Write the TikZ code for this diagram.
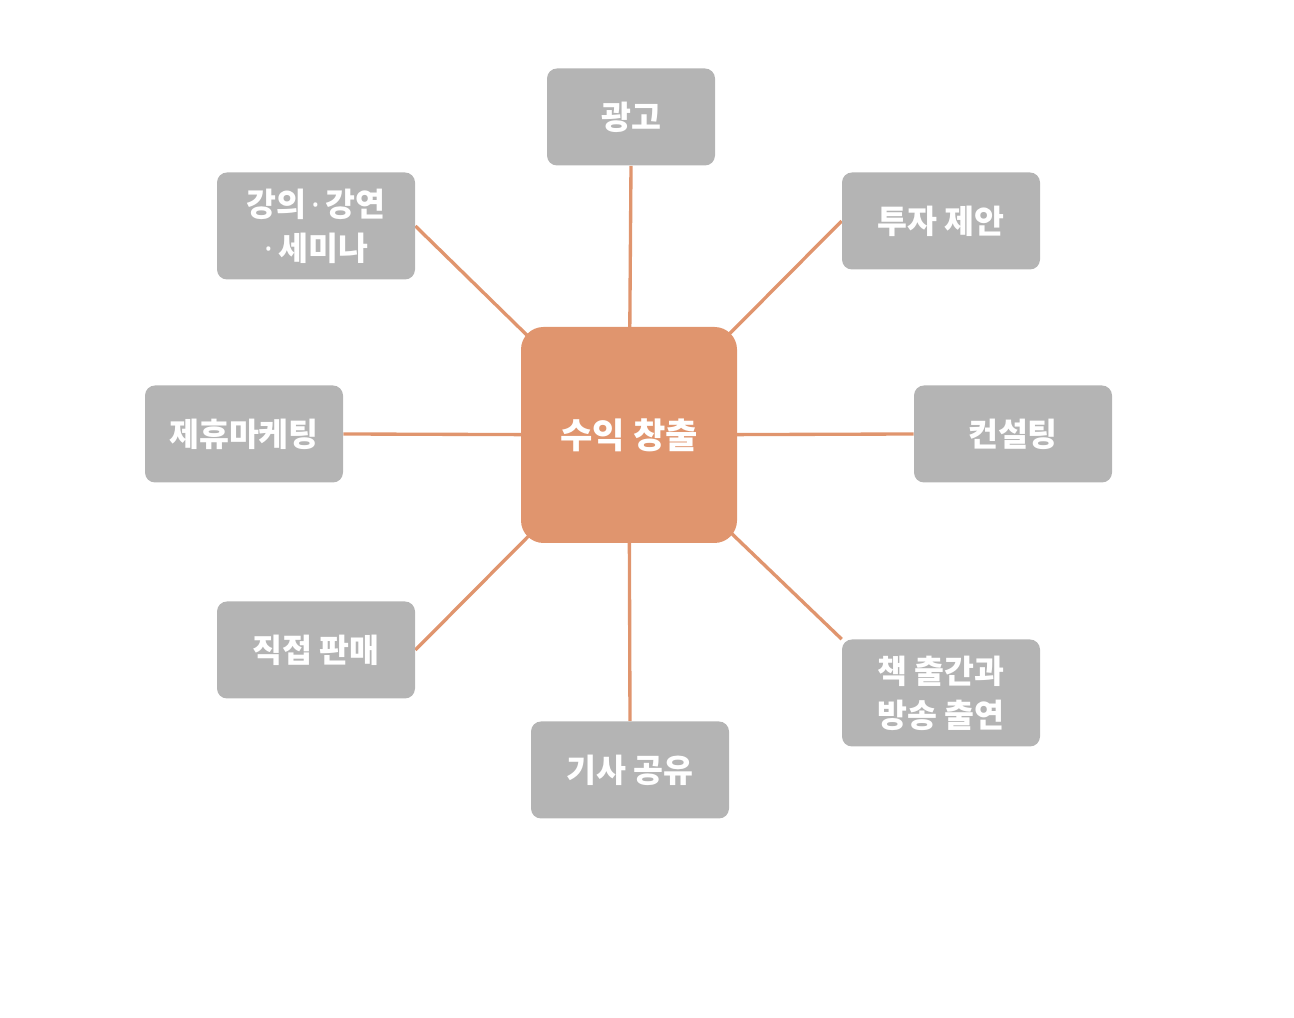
\documentclass[tikz,border=0pt]{standalone}
\usepackage{fontspec}
\usepackage{tikz}
\usetikzlibrary{positioning,backgrounds,calc}
\newfontfamily\kr{Noto Sans CJK KR}
\newfontfamily\lat{Noto Sans}
\definecolor{HubOrange}{RGB}{224,149,110}
\definecolor{LeafGrey}{RGB}{180,180,180}
\newcommand{\mdot}{{\lat\bfseries ·}}

\begin{document}
\begin{tikzpicture}[
leaf/.style={rectangle,rounded corners=2mm,fill=LeafGrey,minimum width=3.96cm,minimum height=1.94cm,align=center,text=white,font=\kr\bfseries\fontsize{18.5}{25}\selectfont,inner sep=0pt},
hub/.style={rectangle,rounded corners=4.5mm,fill=HubOrange,minimum width=4.32cm,minimum height=4.32cm,align=center,text=white,font=\kr\bfseries\fontsize{20}{24}\selectfont},
link/.style={line width=1.9pt,draw=HubOrange}
]
\useasboundingbox (0,0) rectangle (25.88,20.36);
\node[hub] (rev) at (12.58,11.66) {수익 창출};
\node[leaf,minimum width=3.36cm] (ad) at (12.62,18.02) {광고};
\node[leaf] (inv) at (18.82,15.94) {투자 제안};
\node[leaf] (cons) at (20.26,11.68) {컨설팅};
\node[leaf,minimum height=2.14cm] (book) at (18.82,6.50) {책 출간과\\방송 출연};
\node[leaf] (news) at (12.60,4.96) {기사 공유};
\node[leaf] (sale) at (6.32,7.36) {직접 판매};
\node[leaf] (aff) at (4.88,11.68) {제휴마케팅};
\node[leaf,minimum height=2.14cm] (talk) at (6.32,15.84) {강의\,\mdot\,강연\\ \mdot\,세미나};
\begin{scope}[on background layer]
\draw[link] (ad.south)--(rev.center); \draw[link] (news.north)--(rev.center);
\draw[link] (aff.east)--(rev.center); \draw[link] (cons.west)--(rev.center);
\draw[link] (talk.east)--(rev.center); \draw[link] (inv.west)--(rev.center);
\draw[link] (sale.east)--(rev.center); \draw[link] (book.north west)--(rev.center);
\end{scope}
\end{tikzpicture}
\end{document}
